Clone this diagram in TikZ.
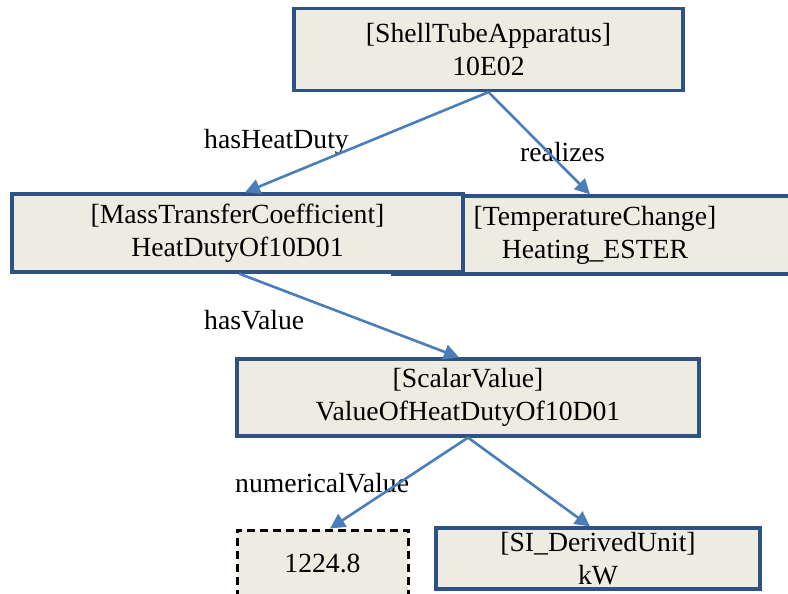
\documentclass[tikz,border=0pt]{standalone}
\usepackage{fontspec}
\setmainfont{Liberation Serif}
\usetikzlibrary{arrows.meta}
\definecolor{boxfill}{HTML}{EEECE1}
\definecolor{boxline}{HTML}{2E5283}
\definecolor{arrowcol}{HTML}{4A7EBB}
\begin{document}
\begin{tikzpicture}[x=1pt,y=-1pt,
  every node/.style={font=\fontsize{27.7}{33}\selectfont},
  box/.style={draw=boxline, line width=3.2pt, fill=boxfill, inner sep=0pt, align=center},
  dbox/.style={draw=black, line width=3pt, dash pattern=on 8pt off 5pt, fill=boxfill, inner sep=0pt, align=center},
  lbl/.style={anchor=west, inner sep=0pt},
  conn/.style={draw=arrowcol, line width=2.6pt, -{Triangle[length=15pt,width=15pt]}}]
\useasboundingbox (0,0) rectangle (788,594);
\node[box, minimum width=404pt, minimum height=78pt] (temp) at (595,235) {[TemperatureChange]\\Heating\_ESTER};
\node[box, minimum width=389pt, minimum height=82pt] (shell) at (488.5,49.5) {[ShellTubeApparatus]\\10E02};
\node[box, minimum width=451pt, minimum height=78pt] (mtc) at (237.5,233) {[MassTransferCoefficient]\\HeatDutyOf10D01};
\node[box, minimum width=462pt, minimum height=77pt] (sv) at (468,397.5) {[ScalarValue]\\ValueOfHeatDutyOf10D01};
\node[dbox, minimum width=171pt, minimum height=66pt] (num) at (322.5,563) {1224.8};
\node[box, minimum width=324pt, minimum height=61pt] (si) at (598,558.5) {[SI\_DerivedUnit]\\kW};
\node[lbl] (l1) at (204,142) {hasHeatDuty};
\node[lbl] (l2) at (520,152) {realizes};
\node[lbl] (l3) at (204,320) {hasValue};
\node[lbl] (l4) at (235,483) {numericalValue};
\draw[conn] (shell.south) -- ([xshift=7.5pt]mtc.north);
\draw[conn] (shell.south) -- ([xshift=-5pt]temp.north);
\draw[conn] ([xshift=1.5pt]mtc.south) -- ([xshift=-9pt]sv.north);
\draw[conn] (sv.south) -- ([xshift=7.5pt]num.north);
\draw[conn] (sv.south) -- ([xshift=-8pt]si.north);
\end{tikzpicture}
\end{document}
